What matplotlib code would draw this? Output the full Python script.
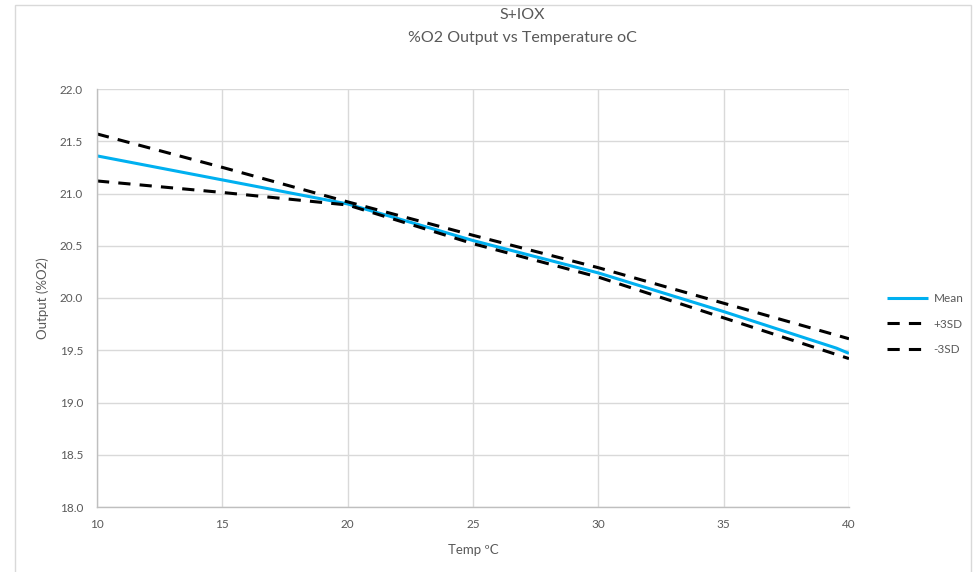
import matplotlib
matplotlib.use("Agg")
import matplotlib.pyplot as plt
from matplotlib.patches import Rectangle

# values
temps = [10, 15, 20, 25, 30, 35, 39.5, 40]
mean_o2 = [21.36, 21.13, 20.90, 20.55, 20.24, 19.87, 19.52, 19.47]

temps_sd = [10, 15, 20, 25, 30, 35, 40]
plus_3sd = [21.57, 21.25, 20.92, 20.60, 20.29, 19.95, 19.61]
minus_3sd = [21.12, 21.01, 20.89, 20.52, 20.20, 19.81, 19.42]

x_ticks = [10, 15, 20, 25, 30, 35, 40]
y_ticks = [18.0, 18.5, 19.0, 19.5, 20.0, 20.5, 21.0, 21.5, 22.0]

text_col = "#595959"
grid_col = "#d9d9d9"

plt.rcParams["font.family"] = ["Lato", "DejaVu Sans"]

fig = plt.figure(figsize=(9.75, 5.72), dpi=100)
ax = fig.add_axes([97 / 975, 1 - 507 / 572, 752 / 975, 418 / 572])

ax.plot(temps, mean_o2, color="#00B0F0", lw=2.2, label="Mean", solid_capstyle="butt")
ax.plot(temps_sd, plus_3sd, color="black", lw=2.2, dashes=(4, 3), label="+3SD")
ax.plot(temps_sd, minus_3sd, color="black", lw=2.2, dashes=(4, 3), label="-3SD")

ax.set_xlim(10, 40)
ax.set_ylim(18, 22)
ax.set_xticks(x_ticks)
ax.set_yticks(y_ticks)
ax.set_yticklabels([f"{v:.1f}" for v in y_ticks])
ax.grid(True, color=grid_col, lw=1)
ax.set_axisbelow(True)
ax.tick_params(length=0, labelsize=8.5, colors=text_col)
ax.tick_params(axis="y", pad=10)
ax.tick_params(axis="x", pad=9)
for side in ["top", "right"]:
    ax.spines[side].set_visible(False)
for side in ["left", "bottom"]:
    ax.spines[side].set_color("#bfbfbf")
    ax.spines[side].set_linewidth(1)

ax.set_xlabel("Temp ºC", fontsize=9.5, color=text_col, labelpad=10)
ax.set_ylabel("Output (%O2)", fontsize=9.5, color=text_col, labelpad=8)

fig.text(522 / 975, 1 - 15 / 572, "S+IOX", ha="center", va="center", fontsize=11.5, color=text_col)
fig.text(522 / 975, 1 - 38 / 572, "%O2 Output vs Temperature oC", ha="center", va="center",
         fontsize=11.5, color=text_col)

ax.legend(loc="center left", bbox_to_anchor=(887 / 975, 1 - 324 / 572),
          bbox_transform=fig.transFigure, frameon=False, fontsize=8.5,
          labelcolor=text_col, borderpad=0, borderaxespad=0,
          handlelength=3.5, handletextpad=0.45, labelspacing=1.23)

fig.patches.append(Rectangle((15 / 975, -0.02), 956 / 975, 1.02 - 5 / 572,
                             transform=fig.transFigure, fill=False, edgecolor=grid_col, lw=1))

fig.savefig("out.png", dpi=100, facecolor="white")
